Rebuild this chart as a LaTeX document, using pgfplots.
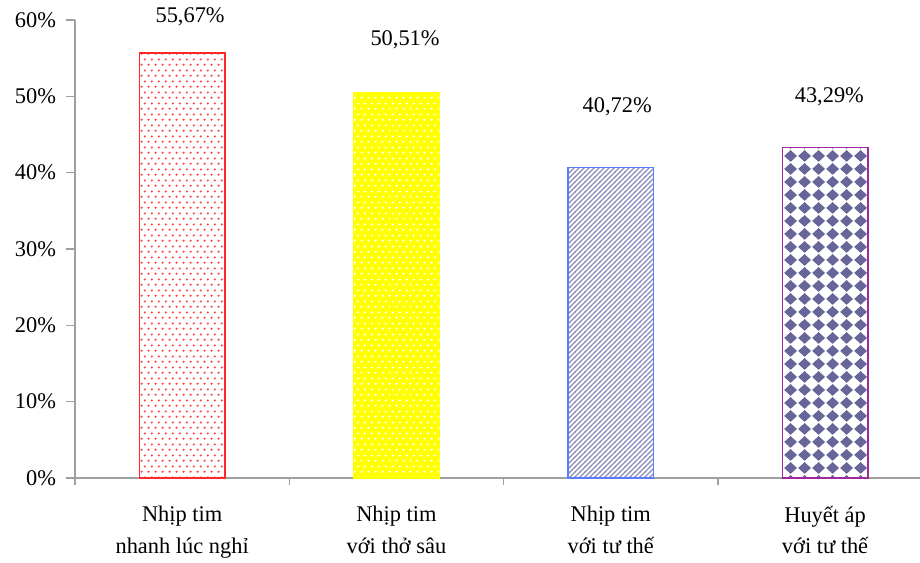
\documentclass[border=0pt]{standalone}
\usepackage{fontspec}
\setmainfont{Liberation Serif}
\usepackage{pgfplots}
\pgfplotsset{compat=1.18}
\usetikzlibrary{patterns.meta}

\definecolor{axisgray}{RGB}{160,160,160}
\definecolor{redline}{RGB}{255,40,40}
\definecolor{reddot}{RGB}{255,70,70}
\definecolor{yel}{RGB}{255,255,0}
\definecolor{stripecol}{RGB}{140,140,190}
\definecolor{blueline}{RGB}{90,125,255}
\definecolor{diamcol}{RGB}{102,102,153}
\definecolor{purpline}{RGB}{160,40,160}

\pgfdeclarepattern{
  name=mydots, type=uncolored,
  bottom left={\pgfpoint{0pt}{0pt}},
  top right={\pgfpoint{5pt}{8.4pt}},
  tile size={\pgfpoint{5pt}{8.4pt}},
  code={
    \pgfpathcircle{\pgfpoint{1.25pt}{1.05pt}}{0.95pt}
    \pgfpathcircle{\pgfpoint{3.75pt}{5.25pt}}{0.95pt}
    \pgfusepath{fill}
  }
}
\pgfdeclarepattern{
  name=nelines, type=uncolored,
  bottom left={\pgfpoint{-1pt}{-1pt}},
  top right={\pgfpoint{4.75pt}{4.75pt}},
  tile size={\pgfpoint{3.75pt}{3.75pt}},
  code={
    \pgfsetlinewidth{0.95pt}
    \pgfpathmoveto{\pgfpoint{-0.2pt}{-0.2pt}}
    \pgfpathlineto{\pgfpoint{3.95pt}{3.95pt}}
    \pgfusepath{stroke}
  }
}
\pgfdeclarepattern{
  name=diamonds, type=uncolored,
  bottom left={\pgfpoint{0pt}{0pt}},
  top right={\pgfpoint{10.5pt}{9.4pt}},
  tile size={\pgfpoint{10.5pt}{9.4pt}},
  code={
    \pgfpathmoveto{\pgfpoint{5.25pt}{0.15pt}}
    \pgfpathlineto{\pgfpoint{10.35pt}{4.7pt}}
    \pgfpathlineto{\pgfpoint{5.25pt}{9.25pt}}
    \pgfpathlineto{\pgfpoint{0.15pt}{4.7pt}}
    \pgfpathclose
    \pgfusepath{fill}
  }
}

\begin{document}
\begin{tikzpicture}
\begin{axis}[
  at={(0,0)}, anchor=south west,
  scale only axis, width=633.75pt, height=343.5pt,
  xmin=-0.5, xmax=3.443, ymin=0, ymax=60,
  axis x line*=bottom, axis y line*=left,
  axis line style={draw=axisgray, line width=1pt},
  ytick={0,10,20,30,40,50,60},
  yticklabels={0\%,10\%,20\%,30\%,40\%,50\%,60\%},
  xtick={0,1,2,3},
  xticklabels={{Nhịp tim\\nhanh lúc nghỉ},{Nhịp tim\\với thở sâu},{Nhịp tim\\với tư thế},{Huyết áp\\với tư thế}},
  minor xtick={-0.5,0.5,1.5,2.5},
  tick align=outside,
  major tick length=6.75pt, minor tick length=5.25pt,
  tick style={draw=axisgray, line width=1pt},
  major x tick style={draw=none},
  tick label style={font=\fontsize{16.8}{23.5}\selectfont},
  xticklabel style={align=center, yshift=-11pt},
  yticklabel style={xshift=-4pt},
  clip=false,
]
\addplot[ybar, bar shift=0pt, bar width=0.4, draw=redline, line width=1pt, fill=white, postaction={pattern=mydots, pattern color=reddot}] coordinates {(0,55.67)};
\addplot[ybar, bar shift=0pt, bar width=0.4, draw=yel, line width=1pt, fill=yel, postaction={pattern=mydots, pattern color=white}] coordinates {(1,50.51)};
\addplot[ybar, bar shift=0pt, bar width=0.4, draw=blueline, line width=1pt, fill=white, postaction={pattern=nelines, pattern color=stripecol}] coordinates {(2,40.72)};
\addplot[ybar, bar shift=0pt, bar width=0.4, draw=purpline, line width=1pt, fill=white, postaction={pattern=diamonds, pattern color=diamcol}] coordinates {(3,43.29)};
\node[font=\fontsize{16.8}{20}\selectfont] at (axis cs:0.037,60.4) {55,67\%};
\node[font=\fontsize{16.8}{20}\selectfont] at (axis cs:1.04,57.4) {50,51\%};
\node[font=\fontsize{16.8}{20}\selectfont] at (axis cs:2.03,48.6) {40,72\%};
\node[font=\fontsize{16.8}{20}\selectfont] at (axis cs:3.02,49.9) {43,29\%};
\end{axis}
\pgfresetboundingbox
\path[use as bounding box] (-56.25pt,-63pt) rectangle (633.75pt,358.5pt);
\end{tikzpicture}
\end{document}
